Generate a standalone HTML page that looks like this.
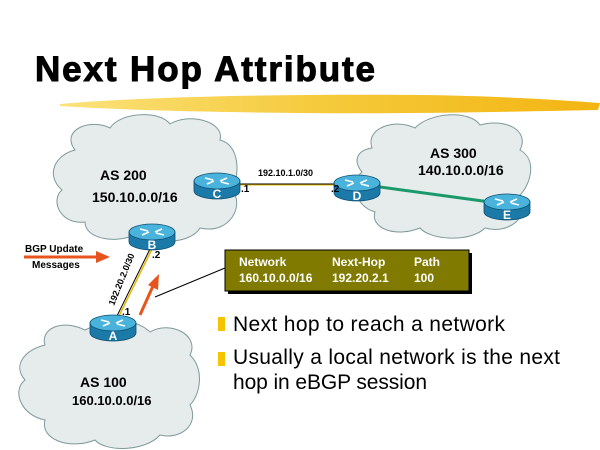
<!DOCTYPE html>
<html><head><meta charset="utf-8"><style>
html,body{margin:0;padding:0;background:#fff;width:600px;height:450px;overflow:hidden}
svg{display:block}
</style></head><body>
<svg width="600" height="450" viewBox="0 0 600 450" xmlns="http://www.w3.org/2000/svg" font-family="Liberation Sans, Arial, sans-serif">
<defs>
<linearGradient id="br" x1="0" x2="1"><stop offset="0" stop-color="#fbe27a"/><stop offset="0.5" stop-color="#f5c93a"/><stop offset="1" stop-color="#f3b512"/></linearGradient>
<g id="rt">
<path d="M-23,0 v10 a23,8 0 0 0 46,0 v-10 z" fill="#1c7aa8" stroke="#0d4f72" stroke-width="0.8"/>
<ellipse cx="0" cy="0" rx="23" ry="8" fill="#4ab3dc" stroke="#0d4f72" stroke-width="0.8"/>
<path d="M-12,-3 l8,2 M12,3 l-8,-2 M-10,3 l7,-3 M10,-3 l-7,3" stroke="#fff" stroke-width="1.5"/>
</g>
</defs>
<text x="35" y="81" font-size="35" font-weight="900" textLength="340" lengthAdjust="spacing" stroke="#000" stroke-width="1">Next Hop Attribute</text>
<path d="M60,104 C150,96 300,94 420,95 C500,96 560,100 600,103 L598,110 C500,112 400,114 300,113 C200,112 120,110 60,106 Z" fill="url(#br)"/>
<!-- clouds -->
<path d="M75,150 C60,130 90,118 110,128 C120,112 160,110 170,124 C190,112 225,122 220,140 C240,145 240,175 232,190 C245,205 230,235 200,228 C190,245 150,245 140,232 C120,245 85,240 85,222 C60,225 50,200 62,190 C45,175 55,155 75,150 Z" fill="#e6ebeb" stroke="#7e9a9a" stroke-width="1"/>
<path d="M372,148 C365,128 395,118 415,128 C430,112 470,110 480,125 C505,118 530,130 520,150 C538,160 530,185 520,195 C532,215 510,235 485,228 C470,243 430,240 420,228 C395,238 370,228 375,212 C352,205 352,180 362,172 C352,160 358,150 372,148 Z" fill="#e6ebeb" stroke="#7e9a9a" stroke-width="1"/>
<path d="M45,345 C40,330 60,318 85,330 C110,318 135,318 150,332 C170,320 200,335 190,355 C205,370 200,395 190,405 C200,425 180,440 160,435 C145,452 105,452 95,440 C70,450 40,440 45,420 C20,415 12,390 25,380 C12,365 25,350 45,345 Z" fill="#e6ebeb" stroke="#7e9a9a" stroke-width="1"/>
<!-- links -->
<line x1="235" y1="184" x2="345" y2="184" stroke="#000" stroke-width="1"/>
<line x1="235" y1="185" x2="345" y2="185" stroke="#e8b800" stroke-width="1"/>
<line x1="380" y1="187" x2="490" y2="202" stroke="#1a9a6a" stroke-width="3"/>
<line x1="150" y1="249" x2="116" y2="318" stroke="#000" stroke-width="1"/>
<line x1="152" y1="249" x2="118" y2="318" stroke="#e8b800" stroke-width="1.5"/>
<line x1="155" y1="297" x2="225" y2="268" stroke="#000" stroke-width="1"/>
<!-- orange arrows -->
<line x1="24" y1="257" x2="98" y2="257" stroke="#e8541e" stroke-width="3"/>
<polygon points="96,251 110,257 96,263" fill="#e8541e"/>
<line x1="140" y1="315" x2="153" y2="286" stroke="#e8541e" stroke-width="3"/>
<polygon points="148,285 159,274 158,290" fill="#e8541e"/>
<!-- routers -->
<use href="#rt" x="217" y="181"/><use href="#rt" x="152" y="232"/><use href="#rt" x="357" y="183"/><use href="#rt" x="507" y="202"/><use href="#rt" x="113" y="323"/>
<g font-weight="bold" fill="#fff" font-size="12" text-anchor="middle">
<text x="217" y="198">C</text><text x="152" y="249">B</text><text x="357" y="200">D</text><text x="507" y="219">E</text><text x="113" y="340">A</text></g>
<g font-weight="bold" fill="#000">
<text x="100" y="180" font-size="14">AS 200</text>
<text x="92" y="202" font-size="14">150.10.0.0/16</text>
<text x="430" y="158" font-size="14">AS 300</text>
<text x="418" y="175" font-size="14">140.10.0.0/16</text>
<text x="80" y="387" font-size="14">AS 100</text>
<text x="72" y="405" font-size="13">160.10.0.0/16</text>
<text x="258" y="176" font-size="9">192.10.1.0/30</text>
<text x="241" y="192" font-size="10">.1</text>
<text x="331" y="192" font-size="10">.2</text>
<text x="152" y="258" font-size="10">.2</text>
<text x="122" y="315" font-size="10">.1</text>
<text font-size="9" transform="translate(114,306) rotate(-68)">192.20.2.0/30</text>
<text x="25" y="252" font-size="10">BGP Update</text>
<text x="32" y="268" font-size="10">Messages</text>
</g>
<!-- table -->
<rect x="228" y="253" width="244" height="41" fill="#000"/>
<rect x="225" y="250" width="244" height="41" fill="#807a00" stroke="#000" stroke-width="1"/>
<g font-weight="bold" fill="#fff" font-size="12">
<text x="239" y="266">Network</text><text x="332" y="266">Next-Hop</text><text x="414" y="266">Path</text>
<text x="239" y="282">160.10.0.0/16</text><text x="332" y="282">192.20.2.1</text><text x="414" y="282">100</text>
</g>
<!-- bullets -->
<rect x="218" y="317" width="7" height="14" fill="#f5c400"/>
<rect x="218" y="352" width="7" height="14" fill="#f5c400"/>
<g font-size="21" fill="#000">
<text x="233" y="331" textLength="272" lengthAdjust="spacing">Next hop to reach a network</text>
<text x="233" y="364" textLength="327" lengthAdjust="spacing">Usually a local network is the next</text>
<text x="233" y="389" textLength="194" lengthAdjust="spacing">hop in eBGP session</text>
</g>
</svg>
</body></html>
